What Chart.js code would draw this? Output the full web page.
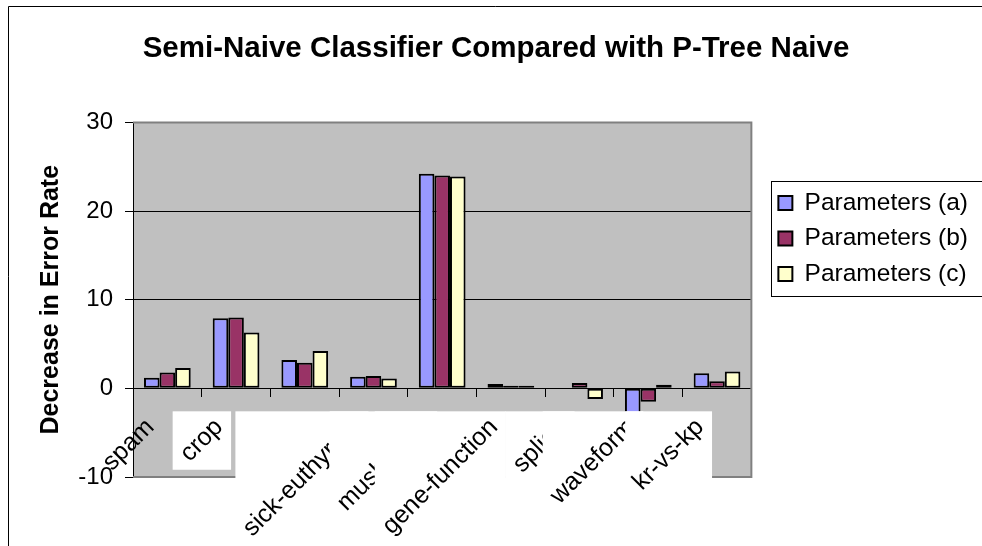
<!DOCTYPE html>
<html>
<head>
<meta charset="utf-8">
<title>Semi-Naive Classifier Compared with P-Tree Naive</title>
<script src="https://cdn.jsdelivr.net/npm/chart.js@4/dist/chart.umd.min.js"></script>
<style>
  html, body { margin: 0; padding: 0; background: #ffffff; }
  canvas { display: block; }
</style>
</head>
<body>
<canvas id="chart" width="982" height="546"></canvas>
<script>
// Data sets on the category axis (the third label is not printed)
const categories = ['spam', 'crop', '', 'sick-euthyroid', 'mushroom', 'gene-function', 'splice', 'waveform', 'kr-vs-kp'];
const seriesNames = ['Parameters (a)', 'Parameters (b)', 'Parameters (c)'];
// Decrease in error rate for each parameter setting
const paramsA = [1.2, 7.9, 3.2, 1.3, 24.2, 0.5, 0, -3.5, 1.7];
const paramsB = [1.8, 8.0, 2.9, 1.4, 24.0, 0.3, 0.6, -1.5, 0.8];
const paramsC = [2.3, 6.3, 4.2, 1.1, 23.9, 0.3, -1.2, 0.4, 1.9];
const yTicks = [-10, 0, 10, 20, 30];

const seriesColors = ['#9999FF', '#993366', '#FFFFCC'];
const FONT = '"Liberation Sans", Arial, Helvetica, sans-serif';

// Grey plot area, outer frame and the plot border
const plotFrame = {
  id: 'plotFrame',
  beforeDraw(chart) {
    const { ctx, chartArea: a, width, height } = chart;
    ctx.save();
    ctx.fillStyle = '#ffffff';
    ctx.fillRect(0, 0, width, height);
    ctx.strokeStyle = '#000000';
    ctx.lineWidth = 1;
    ctx.beginPath();
    ctx.moveTo(8.5, height);
    ctx.lineTo(8.5, 6.5);
    ctx.lineTo(width, 6.5);
    ctx.stroke();
    ctx.fillStyle = '#C0C0C0';
    ctx.fillRect(a.left, a.top, a.right - a.left, a.bottom - a.top);
    ctx.restore();
  },
  beforeDatasetsDraw(chart) {
    const { ctx, chartArea: a } = chart;
    ctx.save();
    ctx.strokeStyle = '#808080';
    ctx.lineWidth = 2;
    ctx.beginPath();
    ctx.moveTo(a.left, a.top);
    ctx.lineTo(a.right, a.top);
    ctx.lineTo(a.right, a.bottom);
    ctx.lineTo(a.left, a.bottom);
    ctx.stroke();
    ctx.restore();
  }
};

// Rotated category labels, each on its own white label box;
// the first label sits against the value axis and has no box
const categoryLabels = {
  id: 'categoryLabels',
  afterDatasetsDraw(chart, args, opts) {
    const { ctx } = chart;
    const xs = chart.scales.x;
    const ys = chart.scales.y;
    const zeroY = ys.getPixelForValue(0);
    const c = Math.SQRT1_2;
    const half = opts.boxHalfHeight;
    ctx.save();
    ctx.font = opts.size + 'px ' + FONT;
    chart.data.labels.forEach((text, i) => {
      if (!text) return;
      const ex = xs.getPixelForValue(i) + opts.dx;
      const ey = zeroY + opts.dy;
      const w = ctx.measureText(text).width;
      if (i > 0) {
        const left = ex - w * c - half * c;
        const right = ex + half * c;
        const top = ey - half * c;
        const bottom = ey + w * c + half * c;
        ctx.fillStyle = '#ffffff';
        ctx.fillRect(left, top, right - left, bottom - top);
      }
      ctx.save();
      ctx.translate(ex, ey);
      ctx.rotate(-Math.PI / 4);
      ctx.fillStyle = '#000000';
      ctx.textAlign = 'right';
      ctx.textBaseline = 'middle';
      ctx.fillText(text, 0, 0);
      ctx.restore();
    });
    ctx.restore();
  }
};

// Frame around the legend entries
const legendFrame = {
  id: 'legendFrame',
  afterDraw(chart) {
    const boxes = chart.legend && chart.legend.legendHitBoxes;
    if (!boxes || !boxes.length) return;
    const first = boxes[0];
    const last = boxes[boxes.length - 1];
    const { ctx } = chart;
    const l = Math.round(first.left - 7) + 0.5;
    const t = Math.round(first.top - 10) + 0.5;
    const b = Math.round(last.top + last.height + 10) + 0.5;
    ctx.save();
    ctx.strokeStyle = '#000000';
    ctx.lineWidth = 1;
    ctx.strokeRect(l, t, chart.width + 10 - l, b - t);
    ctx.restore();
  }
};

const seriesValues = [paramsA, paramsB, paramsC];

new Chart(document.getElementById('chart'), {
  type: 'bar',
  data: {
    labels: categories,
    datasets: seriesNames.map((name, k) => ({
      label: name,
      data: seriesValues[k],
      backgroundColor: seriesColors[k],
      borderColor: '#000000',
      borderWidth: 2,
      borderSkipped: false,
      categoryPercentage: 0.68,
      barPercentage: 1.0
    }))
  },
  options: {
    responsive: false,
    animation: false,
    events: [],
    devicePixelRatio: 1,
    layout: { padding: { left: 14, right: 4, top: 0, bottom: 69 } },
    scales: {
      x: {
        type: 'category',
        position: { y: 0 },
        offset: true,
        grid: {
          display: true,
          offset: true,
          drawOnChartArea: false,
          drawTicks: true,
          tickLength: 8,
          color: '#000000',
          lineWidth: 1
        },
        border: { display: true, color: '#000000', width: 1 },
        ticks: { display: false }
      },
      y: {
        type: 'linear',
        position: 'left',
        min: -10,
        max: 30,
        afterBuildTicks: (s) => { s.ticks = yTicks.map(v => ({ value: v })); },
        afterFit: (s) => { s.width = 119; },
        grid: {
          color: (ctx) => (ctx.tick && (ctx.tick.value === 30 || ctx.tick.value === -10)) ? 'rgba(0,0,0,0)' : '#000000',
          tickColor: '#000000',
          tickLength: 8,
          lineWidth: 1
        },
        border: { display: true, color: '#000000', width: 1 },
        ticks: {
          font: { size: 24, family: FONT },
          color: '#000000',
          padding: 12
        },
        title: {
          display: true,
          text: 'Decrease in Error Rate',
          font: { size: 25, weight: 'bold', family: FONT },
          color: '#000000',
          padding: { top: 22, bottom: 0 }
        }
      },
      gap: {
        type: 'linear',
        position: 'right',
        display: true,
        grid: { display: false },
        border: { display: false },
        ticks: { display: false },
        afterFit: (s) => { s.width = 16; }
      }
    },
    plugins: {
      title: {
        display: true,
        text: 'Semi-Naive Classifier Compared with P-Tree Naive',
        font: { size: 29.5, weight: 'bold', family: FONT },
        color: '#000000',
        padding: { top: 31, bottom: 56 }
      },
      legend: {
        display: true,
        position: 'right',
        align: 'center',
        maxWidth: 300,
        labels: {
          font: { size: 24.5, family: FONT },
          color: '#000000',
          boxWidth: 14,
          boxHeight: 14,
          padding: 11
        }
      },
      tooltip: { enabled: false },
      categoryLabels: { size: 25, dx: -17, dy: 35, boxHalfHeight: 17 }
    }
  },
  plugins: [plotFrame, categoryLabels, legendFrame]
});
</script>
</body>
</html>
